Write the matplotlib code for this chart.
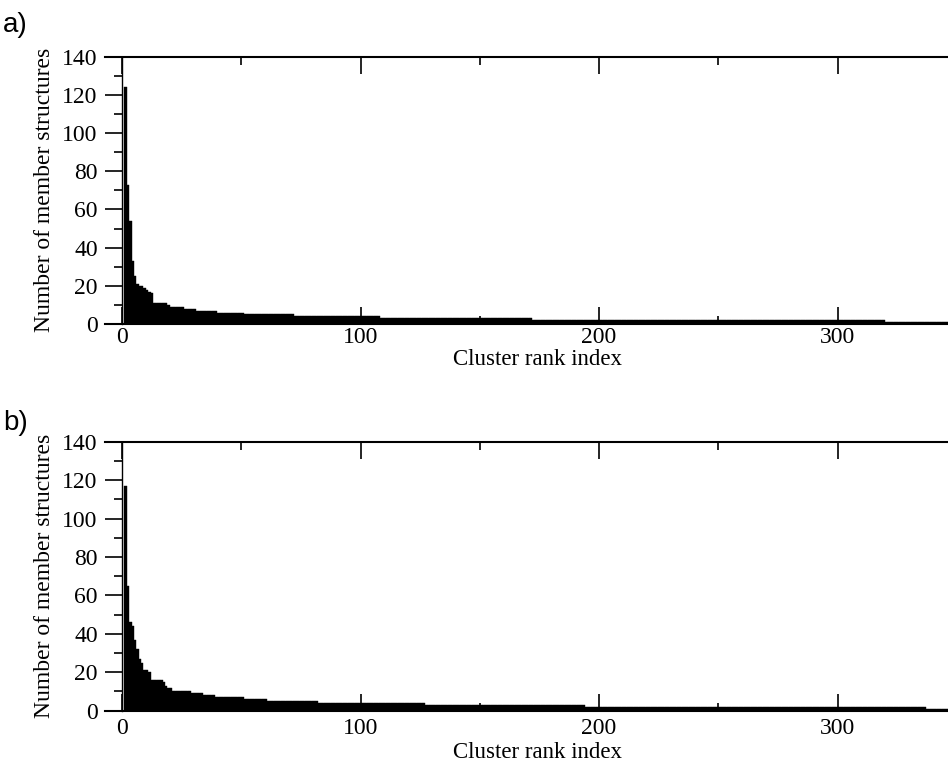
import numpy as np
import matplotlib
matplotlib.use("Agg")
import matplotlib.pyplot as plt
from matplotlib.ticker import MultipleLocator

# cluster sizes (sorted by rank) as run lengths: size, number of clusters with that size
sizes_a = [124, 73, 54, 33, 25, 21, 20, 19, 18, 17, 16, 11, 10, 9, 8, 7, 6, 5, 4, 3, 2, 1]
counts_a = [1, 1, 1, 1, 1, 1, 2, 1, 1, 1, 1, 6, 1, 6, 5, 9, 11, 21, 36, 64, 148, 31]

sizes_b = [117, 65, 46, 44, 37, 32, 27, 25, 21, 20, 16, 15, 13, 12, 10, 9, 8, 7, 6, 5, 4, 3, 2, 1]
counts_b = [1, 1, 1, 1, 1, 1, 1, 1, 2, 1, 5, 1, 1, 2, 8, 5, 5, 12, 10, 21, 45, 67, 143, 14]

panel_labels = ["a)", "b)"]
xlabel = "Cluster rank index"
ylabel = "Number of member structures"

serif = ["Liberation Serif", "DejaVu Serif"]
sans = ["Liberation Sans", "DejaVu Sans"]


def expand(sizes, counts):
    vals = np.repeat(sizes, counts)
    ranks = np.arange(1, len(vals) + 1)
    return ranks, vals


def draw_panel(ax, sizes, counts, tick_pad, xlabel_y):
    ranks, vals = expand(sizes, counts)
    ax.bar(ranks, vals, width=1.0, align="edge", color="black",
           edgecolor="black", linewidth=0.3)

    ax.set_xlim(-7.1, 346.3)
    ax.set_ylim(0, 140)

    ax.spines["right"].set_visible(False)
    ax.spines["left"].set_position(("data", 0))
    ax.spines["left"].set_linewidth(1.0)
    ax.spines["top"].set_linewidth(1.5)
    ax.spines["bottom"].set_linewidth(1.5)

    ax.xaxis.set_major_locator(MultipleLocator(100))
    ax.xaxis.set_minor_locator(MultipleLocator(50))
    ax.yaxis.set_major_locator(MultipleLocator(20))
    ax.yaxis.set_minor_locator(MultipleLocator(10))

    ax.tick_params(axis="x", which="both", direction="in", top=True, bottom=True,
                   width=1.2, pad=tick_pad)
    ax.tick_params(axis="x", which="major", length=12)
    ax.tick_params(axis="x", which="minor", length=5.5)
    ax.tick_params(axis="y", which="both", direction="out", left=True, right=False,
                   width=1.2, pad=5.5)
    ax.tick_params(axis="y", which="major", length=12)
    ax.tick_params(axis="y", which="minor", length=5.5)

    for lab in ax.get_xticklabels() + ax.get_yticklabels():
        lab.set_fontfamily(serif)
        lab.set_fontsize(17)

    ax.set_xlabel(xlabel, fontsize=16.5, family=serif)
    ax.xaxis.set_label_coords(0.5125, xlabel_y)
    ax.set_ylabel(ylabel, fontsize=17, family=serif)
    ax.yaxis.set_label_coords(-0.059, 0.5)


fig = plt.figure(figsize=(9.48, 7.67), dpi=100)
ax_a = fig.add_axes([0.1108, 0.5776, 0.8892, 0.3485])
ax_b = fig.add_axes([0.1108, 0.0734, 0.8892, 0.3507])

draw_panel(ax_a, sizes_a, counts_a, 2, -0.095)
draw_panel(ax_b, sizes_b, counts_b, 5, -0.118)

fig.text(0.003, 0.985, panel_labels[0], fontsize=20, family=sans, ha="left", va="top")
fig.text(0.003, 0.465, panel_labels[1], fontsize=20, family=sans, ha="left", va="top")

fig.savefig("out.png", dpi=100)
